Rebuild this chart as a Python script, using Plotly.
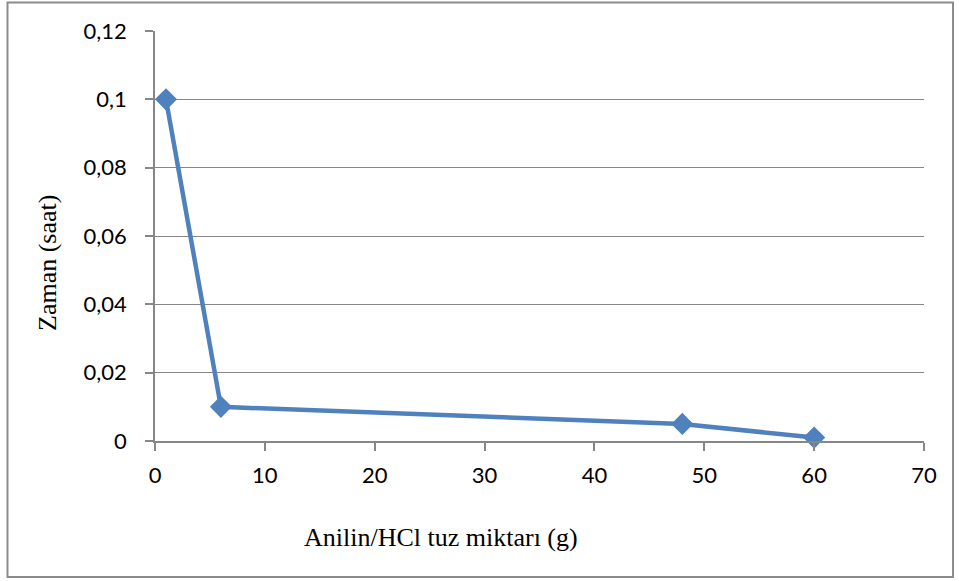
import plotly.graph_objects as go

# Anilin/HCl salt amount (g) vs. time (hours)
salt_g = [1, 6, 48, 60]
time_h = [0.1, 0.01, 0.005, 0.001]

y_ticks = [0, 0.02, 0.04, 0.06, 0.08, 0.1, 0.12]
y_tick_text = ["0", "0,02", "0,04", "0,06", "0,08", "0,1", "0,12"]
x_ticks = [0, 10, 20, 30, 40, 50, 60, 70]

W, H = 959, 581
L, R, T, B = 155, 35, 31, 140
pw, ph = W - L - R, H - T - B

blue = "#4F81BD"
gray = "#878787"
tick_font = dict(family="Lato, 'Open Sans', sans-serif", size=22, color="#000000")
serif = "'Liberation Serif', 'Times New Roman', serif"

fig = go.Figure(go.Scatter(
    x=salt_g, y=time_h, mode="lines+markers",
    line=dict(color=blue, width=4.5),
    marker=dict(symbol="diamond", size=17, color=blue),
    cliponaxis=False, showlegend=False,
))

fig.update_layout(
    width=W, height=H,
    margin=dict(l=L, r=R, t=T, b=B),
    paper_bgcolor="white", plot_bgcolor="white",
    xaxis=dict(
        range=[0, 70], tickvals=x_ticks, showgrid=False, zeroline=False,
        showline=True, linecolor=gray, linewidth=1.5,
        ticks="outside", ticklen=8, tickcolor=gray, tickwidth=1.5,
        tickfont=tick_font, ticklabelstandoff=6,
    ),
    yaxis=dict(
        range=[0, 0.12], tickvals=y_ticks, ticktext=y_tick_text,
        showgrid=True, gridcolor=gray, gridwidth=1.2, zeroline=False,
        showline=True, linecolor=gray, linewidth=1.5,
        ticks="outside", ticklen=8, tickcolor=gray, tickwidth=1.5,
        tickfont=tick_font, ticklabelstandoff=14,
    ),
    font=dict(family="Lato, sans-serif"),
)

def px_x(p):
    return (p - L) / pw

def px_y(p):
    return (H - B - p) / ph

# Axis titles
fig.add_annotation(text="Anilin/HCl tuz miktarı (g)", xref="paper", yref="paper",
                   x=px_x(441), y=px_y(537), showarrow=False,
                   font=dict(family=serif, size=26, color="#000000"),
                   xanchor="center", yanchor="middle")
fig.add_annotation(text="Zaman (saat)", xref="paper", yref="paper",
                   x=px_x(47), y=px_y(263), showarrow=False,
                   font=dict(family=serif, size=26, color="#000000"),
                   textangle=-90, xanchor="center", yanchor="middle")

# Chart frame
fig.add_shape(type="rect", xref="paper", yref="paper",
              x0=px_x(7.5), x1=px_x(953), y0=px_y(577), y1=px_y(2.5),
              line=dict(color="#8c8c8c", width=2), fillcolor="rgba(0,0,0,0)", layer="below")

fig.write_html("out.html")
